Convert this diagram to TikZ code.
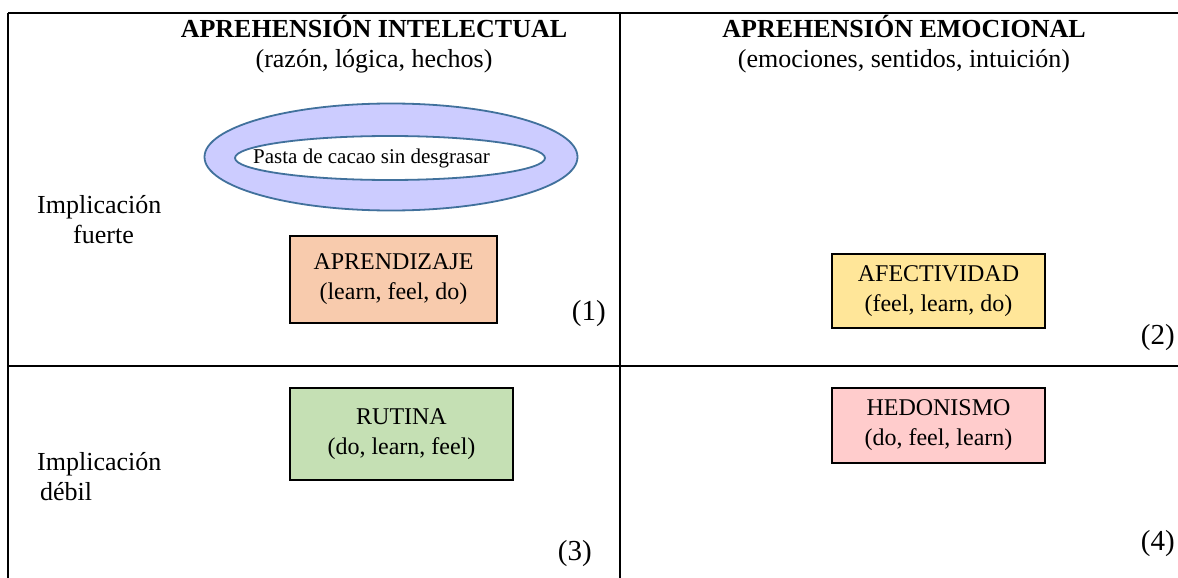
\documentclass[tikz,border=0pt]{standalone}
\usepackage{fontspec}
\setmainfont{Liberation Serif}
\usetikzlibrary{shapes.geometric}
\definecolor{peach}{HTML}{F8CBAD}
\definecolor{butter}{HTML}{FFE699}
\definecolor{sage}{HTML}{C5E0B4}
\definecolor{blush}{HTML}{FFCCCC}
\definecolor{lavender}{HTML}{CCCCFF}
\definecolor{ringline}{HTML}{41719C}
\tikzset{
  grid/.style={line width=2.2pt, black},
  head/.style={anchor=base, font=\fontsize{26}{30}\selectfont\bfseries, inner sep=0pt},
  sub/.style={anchor=base, font=\fontsize{26}{30}\selectfont, inner sep=0pt},
  side/.style={anchor=base west, font=\fontsize{26}{30}\selectfont, inner sep=0pt},
  quad/.style={anchor=base east, font=\fontsize{29}{32}\selectfont, inner sep=0pt},
  stage/.style={draw=black, line width=1.6pt, align=center, inner sep=0pt,
    font=\fontsize{24}{30}\selectfont},
  ring/.style={ellipse, draw=ringline, line width=1.8pt, inner sep=0pt},
}
\begin{document}
\begin{tikzpicture}[x=1pt,y=-1pt]
\useasboundingbox (0,0) rectangle (1178,578);
\fill[white] (0,0) rectangle (1178,578);

% quadrant frame
\draw[grid] (8,13) -- (1178,13);
\draw[grid] (8,13) -- (8,578);
\draw[grid] (620,13) -- (620,578);
\draw[grid] (8,366) -- (1178,366);

% column headings
\node[head] (h1) at (374,38) {APREHENSIÓN INTELECTUAL};
\node[sub]  (s1) at (374,67) {(razón, lógica, hechos)};
\node[head] (h2) at (904,38) {APREHENSIÓN EMOCIONAL};
\node[sub]  (s2) at (904,67) {(emociones, sentidos, intuición)};

% ring around the product
\node[ring, fill=lavender, minimum width=373pt, minimum height=107pt] (outer) at (391,157) {};
\node[ring, fill=white, minimum width=310pt, minimum height=44pt] (inner) at (390,158) {};
\node[anchor=base west, inner sep=0pt, font=\fontsize{21}{24}\selectfont] (prod) at (253,163) {Pasta de cacao sin desgrasar};

% row labels
\node[side] (f1) at (37,213) {Implicación};
\node[side] (f2) at (73,243) {fuerte};
\node[side] (d1) at (37,470) {Implicación};
\node[side] (d2) at (40,500) {débil};

% the four stages
\node[stage, fill=peach, minimum width=207pt, minimum height=87pt] (apr) at (393.5,279.5) {APRENDIZAJE\\(learn, feel, do)};
\node[stage, fill=butter, minimum width=213pt, minimum height=74pt] (afe) at (938.5,291) {AFECTIVIDAD\\(feel, learn, do)};
\node[stage, fill=sage, minimum width=223pt, minimum height=92pt] (rut) at (401.5,434) {RUTINA\\(do, learn, feel)};
\node[stage, fill=blush, minimum width=213pt, minimum height=75pt] (hed) at (938.5,425.5) {HEDONISMO\\(do, feel, learn)};

% quadrant numbers
\node[quad] (n1) at (606,320) {(1)};
\node[quad] (n2) at (1175,344) {(2)};
\node[quad] (n3) at (592,560) {(3)};
\node[quad] (n4) at (1175,550) {(4)};
\end{tikzpicture}
\end{document}
